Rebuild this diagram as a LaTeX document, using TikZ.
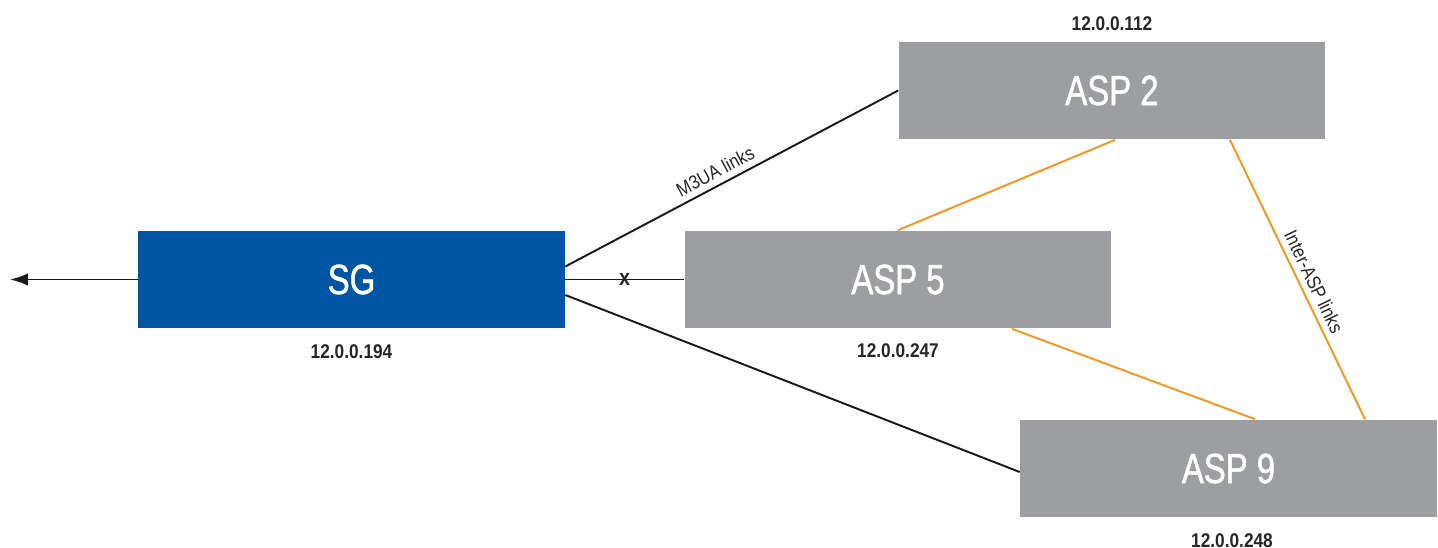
\documentclass[tikz,border=0pt]{standalone}
\usepackage{fontspec}
\setmainfont{Liberation Sans}
\newfontfamily\boxfont{Liberation Sans}[FakeStretch=0.78, FakeBold=1.2]
\newfontfamily\addrfont{Liberation Sans}[FakeStretch=0.87]
\usetikzlibrary{positioning,arrows.meta}
\definecolor{sgblue}{HTML}{0055A4}
\definecolor{aspgray}{HTML}{9D9EA2}
\definecolor{linkorange}{HTML}{F7941D}
\begin{document}
\begin{tikzpicture}
      [
        x = 0.02cm, y = -0.02cm,
        box/.style = {draw=none, minimum width = 8.54cm, minimum height = 1.96cm,
          text = white, font = \boxfont\fontsize{24}{28}\selectfont},
        sgbox/.style = {box, fill = sgblue},
        aspbox/.style = {box, fill = aspgray},
        addr/.style = {font = \addrfont\bfseries\fontsize{11.3}{13}\selectfont, text = black!85},
        linklabel/.style = {font = \addrfont\fontsize{11}{13}\selectfont, text = black!85},
        link/.style = {draw = black!90, line width = 1.1pt},
        interlink/.style = {draw = linkorange, line width = 1.1pt},
      ]

      \useasboundingbox (0,0) rectangle (1438,548);

      \node[sgbox] (SG) at (351.5,279.5) {SG};
      \node[aspbox] (ASP2) at (1112,90.5) {ASP 2};
      \node[aspbox] (ASP5) at (898,279.5) {ASP 5};
      \node[aspbox, minimum width = 8.34cm] (ASP9) at (1228.5,468.5) {ASP 9};

      \node[addr, below = 0.2cm of SG] (SGaddr) {12.0.0.194};
      \node[addr, above = 0.09cm of ASP2] (ASP2addr) {12.0.0.112};
      \node[addr, below = 0.17cm of ASP5] (ASP5addr) {12.0.0.247};
      \node[addr, below = 0.19cm of ASP9, xshift = 0.07cm] (ASP9addr) {12.0.0.248};

      \coordinate (out) at (10,279.5);

      \draw[link, -{Latex[length = 0.36cm, width = 0.25cm]}] (SG.west) -- (out);
      \draw[link] ([yshift = 0.26cm]SG.east) -- (ASP2.west)
        node[linklabel, pos = 0.47, sloped, above] {M3UA links};
      \draw[link] (SG.east) -- (ASP5.west)
        node[linklabel, font = \addrfont\bfseries\fontsize{13}{15}\selectfont, midway, inner sep = 0pt] {x};
      \draw[link] ([yshift = -0.31cm]SG.east) -- ([yshift = -0.07cm]ASP9.west);

      \draw[interlink] ([xshift = 0.06cm]ASP2.south) -- (ASP5.north);
      \draw[interlink] ([xshift = 2.28cm]ASP5.south) -- ([xshift = 0.53cm]ASP9.north);
      \draw[interlink] ([xshift = 2.36cm]ASP2.south) -- ([xshift = 2.73cm]ASP9.north)
        node[linklabel, pos = 0.53, sloped, above] {Inter-ASP links};

    \end{tikzpicture}
\end{document}
